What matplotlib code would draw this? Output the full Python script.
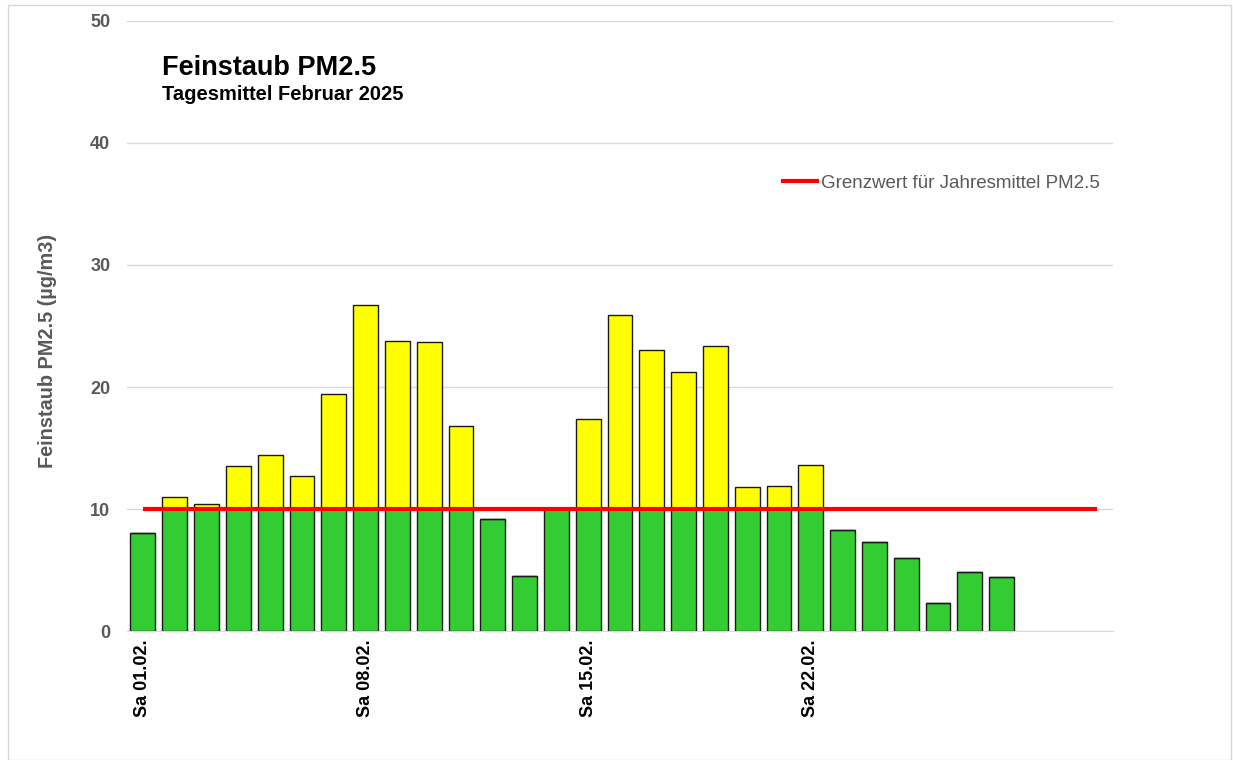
import matplotlib
matplotlib.use('Agg')
import matplotlib.pyplot as plt
import numpy as np
from matplotlib.patches import Rectangle

plt.rcParams['font.family'] = ['Liberation Sans', 'DejaVu Sans']

# Daily means February 2025 (days 1..28), slots 29..31 stay empty
days = list(range(1, 32))
values = [8.0, 11.0, 10.4, 13.5, 14.4, 12.7, 19.4, 26.7, 23.8, 23.7, 16.8, 9.2,
          4.5, 10.1, 17.4, 25.9, 23.0, 21.2, 23.4, 11.8, 11.9, 13.6, 8.3, 7.3,
          6.0, 2.3, 4.8, 4.4]
limit = 10
tick_days = [1, 8, 15, 22]
tick_labels = ['Sa 01.02.', 'Sa 08.02.', 'Sa 15.02.', 'Sa 22.02.']

fig = plt.figure(figsize=(12.33, 7.6), dpi=100)
ax = fig.add_axes([0.103, 0.1697, 0.7997, 0.8027])

x = np.arange(len(values))
vals = np.array(values)
green = np.minimum(vals, limit)
yellow = np.clip(vals - limit, 0, None)

ax.bar(x, green, width=0.78, color='#33cc33', edgecolor='#1a1a1a', linewidth=1.0, zorder=2)
ax.bar(x, yellow, width=0.78, bottom=green, color='#ffff00', edgecolor='#1a1a1a',
       linewidth=1.0, zorder=2)

line_x = np.arange(len(days))
ax.plot(line_x, [limit] * len(days), color='#ff0000', linewidth=3, zorder=3,
        label='Grenzwert für Jahresmittel PM2.5', solid_capstyle='butt')

ax.set_xlim(-0.5, len(days) - 0.5)
ax.set_ylim(0, 50)
ax.set_yticks([0, 10, 20, 30, 40, 50])
ax.yaxis.grid(True, color='#d9d9d9', linewidth=1, zorder=0)
ax.set_axisbelow(True)
for s in ['top', 'right', 'left']:
    ax.spines[s].set_visible(False)
ax.spines['bottom'].set_color('#d9d9d9')
ax.tick_params(axis='y', length=0, pad=12, labelsize=13, labelcolor='#595959')
for t in ax.get_yticklabels():
    t.set_fontweight('bold')
ax.set_xticks([d - 1 for d in tick_days])
ax.set_xticklabels(tick_labels, rotation=90, fontsize=13, fontweight='bold',
                   va='top', ha='center')
ax.tick_params(axis='x', length=0, pad=6)

ax.set_ylabel('Feinstaub PM2.5 (µg/m3)', fontsize=14.3, fontweight='bold',
              color='#595959')
ax.yaxis.set_label_coords(-0.071, 0.459)

fig.text(0.1314, 0.910, 'Feinstaub PM2.5', fontsize=19.5, fontweight='bold', va='center')
fig.text(0.1314, 0.875, 'Tagesmittel Februar 2025', fontsize=14.5, fontweight='bold',
         va='center')

leg = ax.legend(loc='center right', bbox_to_anchor=(0.994, 0.734), frameon=False,
                fontsize=13.5, handlelength=2.0, handletextpad=0.1, borderaxespad=0)
for t in leg.get_texts():
    t.set_color('#595959')

fig.patches.append(Rectangle((8 / 1233, 0), 1 - 8 / 1233 - 0.002, 1 - 5 / 760,
                             transform=fig.transFigure, fill=False,
                             edgecolor='#d9d9d9', linewidth=1))

fig.savefig('out.png', dpi=100)
